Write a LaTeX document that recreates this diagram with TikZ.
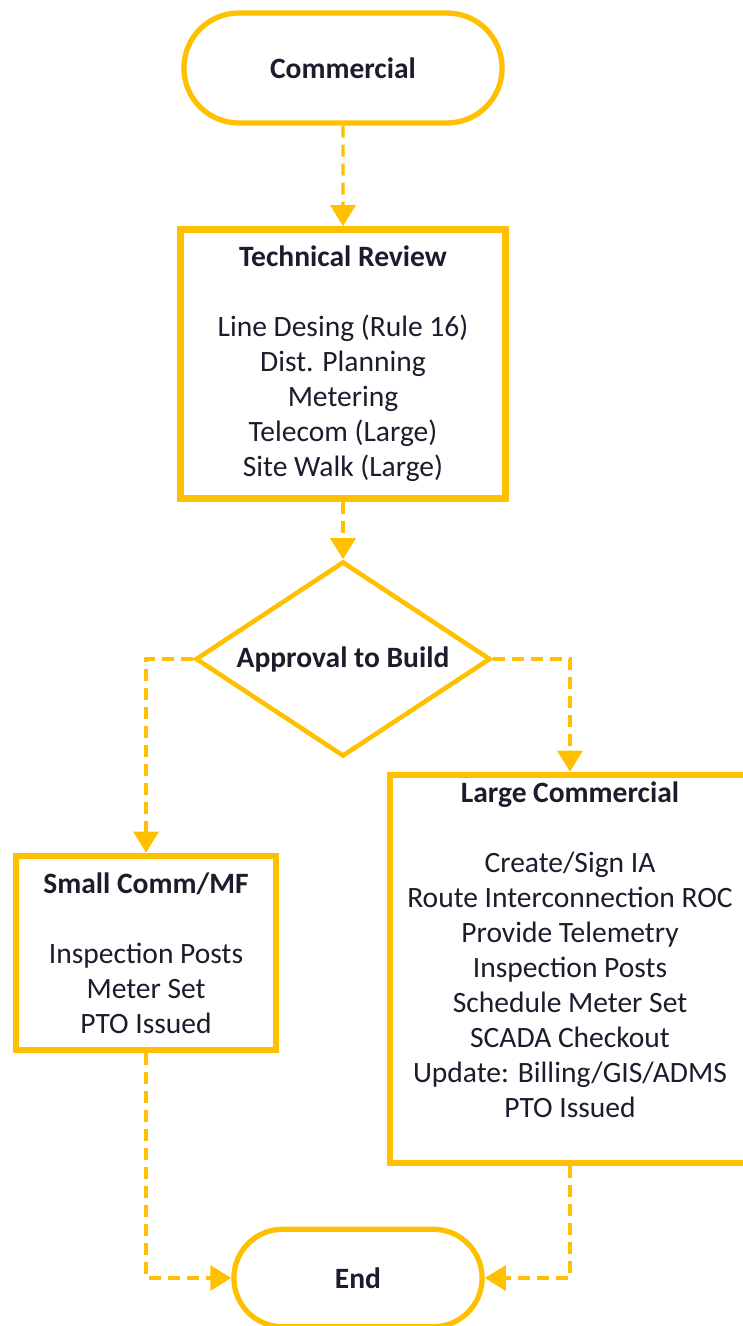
\documentclass[tikz,border=0pt]{standalone}
\usepackage{fontspec}
\setmainfont{Carlito}
\usetikzlibrary{arrows.meta,shapes.misc,shapes.geometric}

\definecolor{gold}{HTML}{FFC000}
\definecolor{ink}{HTML}{1C1C2C}

\tikzset{
  every node/.style={font=\fontsize{16.8}{19.9}\selectfont, text=ink, align=center},
  term/.style={draw=gold, line width=3pt, rounded rectangle, fill=white},
  stepbox/.style={draw=gold, line width=3.8pt, rectangle, fill=white},
  decide/.style={draw=gold, line width=2.6pt, diamond, aspect=1.5, inner sep=0pt},
  flow/.style={draw=gold, line width=1.8pt, dash pattern=on 0.24cm off 0.14cm,
    -{Triangle[width=0.5cm,length=0.42cm]}},
}

\begin{document}
\begin{tikzpicture}[x=0.02cm, y=-0.02cm]
      \path[use as bounding box] (0, 0) rectangle (743, 1326);

      % start / end
      \node[term, minimum width=6.6cm, minimum height=2.2cm] at (343, 68) (com) {\textbf{Commercial}};
      \node[term, minimum width=5.2cm, minimum height=1.95cm] at (358, 1278) (end) {\textbf{End}};

      % review
      \node[stepbox, minimum width=6.5cm, minimum height=5.38cm] at (343, 364) (tr)
        {\textbf{Technical Review}\\[0.7cm]
         Line Desing (Rule 16)\\ Dist. Planning\\ Metering\\ Telecom (Large)\\ Site Walk (Large)};

      % decision
      \node[decide, minimum width=5.9cm, minimum height=3.9cm] at (343, 659) (atb) {\textbf{Approval to Build}};

      % branches
      \node[stepbox, minimum width=5.2cm, minimum height=3.88cm] at (146, 953) (small)
        {\textbf{Small Comm/MF}\\[0.7cm]
         Inspection Posts\\ Meter Set\\ PTO Issued};
      \node[stepbox, minimum width=7.2cm, minimum height=7.76cm, text depth=0.78cm] at (570, 969) (large)
        {\textbf{Large Commercial}\\[0.7cm]
         Create/Sign IA\\ Route Interconnection ROC\\ Provide Telemetry\\ Inspection Posts\\
         Schedule Meter Set\\ SCADA Checkout\\ Update: Billing/GIS/ADMS\\ PTO Issued};

      % arrows
      \draw[flow] (com) -- (tr);
      \draw[flow] (tr) -- (atb);
      \draw[flow] (atb.west) -| (small);
      \draw[flow] (atb.east) -| (large);
      \draw[flow] (small) |- (end);
      \draw[flow] (large) |- (end);
    \end{tikzpicture}
\end{document}
